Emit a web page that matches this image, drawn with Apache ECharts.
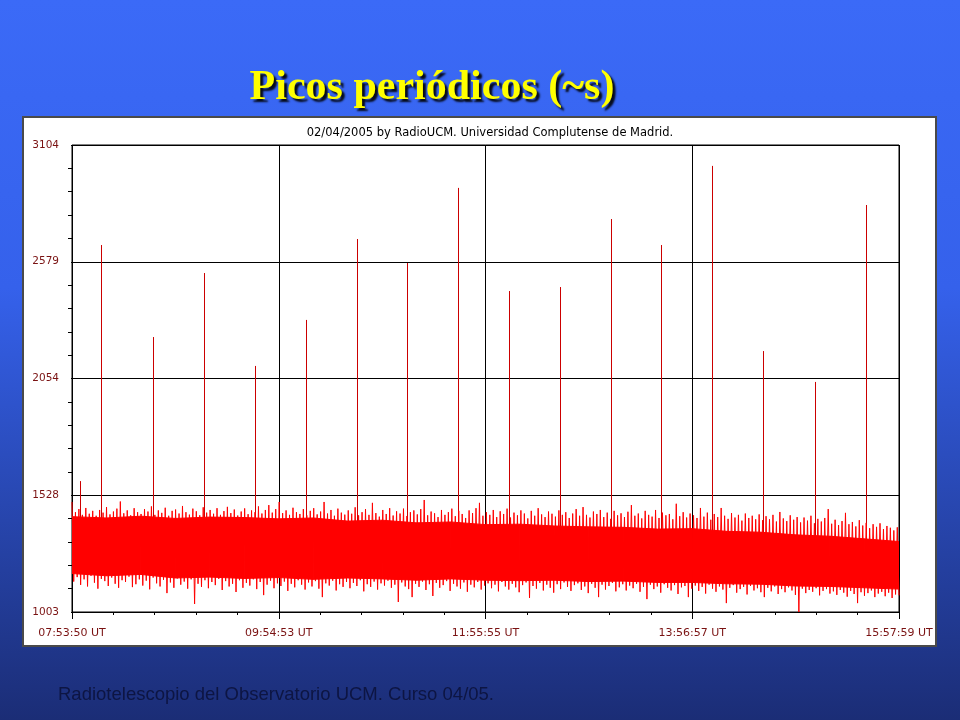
<!DOCTYPE html>
<html>
<head>
<meta charset="utf-8">
<script src="https://cdn.jsdelivr.net/npm/echarts@6/dist/echarts.min.js"></script>
<style>html,body{margin:0;padding:0;background:#2a4fd0}#c{width:960px;height:720px}</style>
</head>
<body>
<div id="c"></div>
<script>
// ---- data ----
const slideTitle = 'Picos periódicos (~s)';
const chartTitle = '02/04/2005 by RadioUCM. Universidad Complutense de Madrid.';
const footer = 'Radiotelescopio del Observatorio UCM. Curso 04/05.';
const xTickLabels = ['07:53:50 UT', '09:54:53 UT', '11:55:55 UT', '13:56:57 UT', '15:57:59 UT'];
const yTickLabels = ['1003', '1528', '2054', '2579', '3104'];
const Y_MIN = 1003, Y_MAX = 3104;
const X_SPAN = 29048;           // seconds from 07:53:50 to 15:57:59
const X_STEP = 7262;            // seconds between labelled ticks

// periodic spikes: seconds after start, peak value
const spikeTimes = [281, 1019, 2845, 4637, 6428, 8219, 10011, 11767, 13558, 15350, 17141, 18932, 20689, 22480, 24271, 26098, 27889];
const spikeTops  = [1592, 2654, 2240, 2528, 2110, 2317, 2681, 2573, 2911, 2447, 2465, 2771, 2654, 3010, 2177, 2038, 2834];
const spikeBase = 1290;

// dense core of the noise band (edges at a few times)
const coreTimes = [0,1210,2420,3630,4840,6050,7260,8470,9680,10890,12100,13310,14520,15730,16940,18150,19360,20570,21780,22990,24200,25410,26620,27830,29048];
const coreUpper = [1432,1426,1434,1424,1430,1428,1422,1426,1412,1416,1404,1408,1396,1398,1390,1386,1384,1376,1378,1366,1362,1350,1344,1332,1320];
const coreLower = [1176,1166,1172,1156,1160,1154,1158,1150,1156,1152,1146,1152,1146,1144,1146,1140,1142,1136,1136,1130,1128,1120,1118,1112,1106];

// noise fringe: alternating local maxima / minima, 240 of each, evenly sampled
const noiseHigh = [
 1498,1452,1466,1440,1471,1445,1458,1436,1462,1450,1475,1442,1455,1468,1500,1447,1460,1438,1470,1452,
 1444,1466,1455,1478,1440,1460,1449,1472,1436,1458,1464,1446,1480,1452,1441,1468,1456,1438,1474,1450,
 1462,1445,1470,1440,1457,1476,1448,1464,1437,1455,1469,1443,1460,1452,1478,1446,1462,1484,1450,1466,
 1498,1448,1460,1440,1472,1452,1444,1466,1438,1458,1470,1442,1455,1498,1446,1462,1436,1468,1450,1441,
 1460,1445,1474,1438,1452,1466,1440,1494,1448,1432,1462,1444,1470,1437,1456,1446,1468,1435,1452,1460,
 1442,1466,1507,1438,1455,1447,1430,1462,1440,1452,1468,1434,1458,1444,1426,1460,1448,1470,1494,1436,
 1452,1440,1462,1430,1456,1444,1468,1428,1450,1438,1460,1446,1424,1458,1436,1470,1442,1430,1455,1445,
 1432,1460,1440,1452,1426,1446,1466,1436,1475,1440,1428,1455,1444,1462,1430,1450,1422,1458,1438,1447,
 1430,1454,1484,1436,1446,1424,1458,1440,1432,1462,1426,1450,1438,1444,1420,1490,1434,1452,1428,1446,
 1438,1426,1471,1432,1450,1418,1444,1430,1471,1436,1422,1448,1428,1440,1414,1446,1426,1436,1420,1442,
 1416,1434,1420,1440,1410,1453,1424,1412,1438,1418,1430,1406,1428,1414,1436,1402,1422,1410,1426,1466,
 1400,1418,1394,1412,1449,1398,1408,1388,1416,1392,1404,1380,1398,1386,1402,1376,1390,1382,1370,1384];
const noiseLow = [
 1140,1160,1125,1150,1118,1166,1135,1108,1152,1142,1120,1158,1130,1112,1146,1138,1162,1115,1128,1150,
 1122,1144,1105,1158,1132,1118,1148,1088,1136,1112,1154,1126,1140,1108,1150,1039,1130,1116,1146,1110,
 1138,1124,1152,1102,1142,1118,1130,1093,1146,1112,1134,1122,1150,1106,1138,1079,1126,1144,1110,1132,
 1120,1140,1098,1130,1114,1146,1126,1104,1136,1118,1142,1108,1070,1132,1122,1144,1100,1128,1116,1138,
 1110,1134,1120,1146,1096,1128,1116,1140,1104,1132,1122,1144,1112,1126,1048,1136,1118,1106,1070,1130,
 1116,1140,1102,1128,1075,1134,1112,1124,1142,1098,1130,1118,1108,1136,1094,1126,1114,1138,1104,1122,
 1132,1110,1126,1096,1138,1118,1104,1130,1114,1092,1124,1136,1066,1120,1108,1134,1100,1126,1112,1090,
 1128,1106,1136,1116,1098,1124,1132,1102,1118,1088,1130,1112,1070,1126,1104,1120,1134,1096,1114,1128,
 1100,1122,1110,1130,1094,1116,1061,1126,1106,1118,1090,1128,1112,1100,1124,1084,1114,1120,1070,1108,
 1122,1098,1116,1086,1126,1108,1094,1118,1104,1043,1112,1124,1090,1106,1116,1082,1120,1100,1110,1092,
 1070,1112,1096,1118,1084,1106,1092,1114,1100,1080,1003,1108,1088,1102,1094,1110,1078,1098,1106,1086,
 1096,1080,1102,1090,1072,1098,1084,1043,1092,1076,1088,1100,1070,1086,1094,1074,1090,1066,1082,1078];

// ---- build series data ----
const Y_INT = (Y_MAX - Y_MIN) / 4;
const nPts = noiseHigh.length * 2;
const dt = X_SPAN / (nPts - 1);
const zigzag = [];
for (let i = 0; i < noiseHigh.length; i++) {
  zigzag.push([(2 * i) * dt, noiseHigh[i] - Y_MIN]);
  zigzag.push([(2 * i + 1) * dt, noiseLow[i] - Y_MIN]);
}
const coreSegs = [];
for (let i = 0; i < coreTimes.length - 1; i++) {
  coreSegs.push([coreTimes[i], coreLower[i] - Y_MIN, coreUpper[i] - Y_MIN,
                 coreTimes[i + 1], coreLower[i + 1] - Y_MIN, coreUpper[i + 1] - Y_MIN]);
}
const spikes = spikeTimes.map((t, i) => [t, spikeTops[i] - Y_MIN]);

const chart = echarts.init(document.getElementById('c'), null, {renderer: 'canvas'});
const labelColor = '#7a1212';
chart.setOption({
  animation: false,
  backgroundColor: new echarts.graphic.LinearGradient(0, 0, 0, 1, [
    {offset: 0, color: '#3b6af7'},
    {offset: 0.4, color: '#3561eb'},
    {offset: 1, color: '#1b2d76'}
  ]),
  graphic: [
    {type: 'rect', z: -10, shape: {x: 23, y: 117, width: 913, height: 529},
     style: {fill: '#ffffff', stroke: '#4a4a4a', lineWidth: 2}},
    {type: 'text', z: 10, x: 432, y: 88,
     style: {text: slideTitle, fill: '#ffff00', font: 'bold 42px "Liberation Serif", "Times New Roman", serif',
             textAlign: 'center', textVerticalAlign: 'middle',
             textShadowColor: 'rgba(0,0,0,0.9)', textShadowOffsetX: 3, textShadowOffsetY: 3, textShadowBlur: 2}},
    {type: 'text', z: 10, x: 58, y: 695,
     style: {text: footer, fill: '#0d1543', font: '18.5px "Liberation Sans", Arial, sans-serif',
             textAlign: 'left', textVerticalAlign: 'middle'}}
  ],
  title: {
    text: chartTitle, left: 485, top: 121, textAlign: 'center',
    textStyle: {fontFamily: 'DejaVu Sans', fontSize: 11.5, fontWeight: 'normal', color: '#000', lineHeight: 14}
  },
  grid: {left: 72, right: 61, top: 145, bottom: 108, show: true, borderColor: '#000', borderWidth: 1, backgroundColor: 'transparent'},
  xAxis: {
    type: 'value', min: 0, max: X_SPAN, interval: X_STEP, offset: 3,
    axisLine: {show: false},
    axisTick: {show: true, length: 7, lineStyle: {color: '#000'}},
    minorTick: {show: true, splitNumber: 5, length: 3, lineStyle: {color: '#000'}},
    splitLine: {show: true, lineStyle: {color: '#000', width: 1}},
    axisLabel: {margin: 13, color: labelColor, fontFamily: 'DejaVu Sans', fontSize: 11,
                formatter: v => xTickLabels[Math.round(v / X_STEP)]}
  },
  yAxis: {
    type: 'value', min: 0, max: Y_MAX - Y_MIN, interval: Y_INT, offset: 4,
    axisLine: {show: false},
    axisTick: {show: true, length: 1, lineStyle: {color: '#000'}},
    minorTick: {show: true, splitNumber: 5, length: 4, lineStyle: {color: '#000'}},
    splitLine: {show: true, lineStyle: {color: '#000', width: 1}},
    axisLabel: {margin: 9, color: labelColor, fontFamily: 'DejaVu Sans', fontSize: 10.5,
                formatter: v => yTickLabels[Math.round(v / Y_INT)]}
  },
  series: [
    {
      type: 'custom', z: 1, data: spikes, clip: true,
      renderItem: (params, api) => {
        const t = api.value(0), top = api.value(1);
        const p1 = api.coord([t, spikeBase - Y_MIN]);
        const p2 = api.coord([t, top]);
        const x = Math.round(p1[0]) + 0.5;
        return {type: 'line', shape: {x1: x, y1: p1[1], x2: x, y2: p2[1]},
                style: {stroke: '#cc0000', fill: null, lineWidth: 1}};
      }
    },
    {
      type: 'custom', z: 2, data: coreSegs, clip: true,
      renderItem: (params, api) => {
        const a = api.coord([api.value(0), api.value(1)]);
        const b = api.coord([api.value(0), api.value(2)]);
        const c = api.coord([api.value(3), api.value(5)]);
        const d = api.coord([api.value(3), api.value(4)]);
        return {type: 'polygon', shape: {points: [a, b, c, d]},
                style: {fill: '#ff0000', stroke: '#ff0000', lineWidth: 1}};
      }
    },
    {type: 'line', z: 3, data: zigzag, symbol: 'none', sampling: null, lineStyle: {color: '#ff0000', width: 1}}
  ]
});
</script>
</body>
</html>
